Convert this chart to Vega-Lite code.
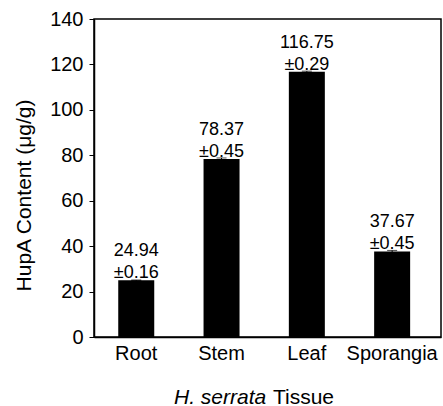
{
  "$schema": "https://vega.github.io/schema/vega-lite/v6.json",
  "autosize": {"type": "none"},
  "padding": {"left": 94, "top": 19, "right": 2, "bottom": 69},
  "width": 347,
  "height": 318,
  "background": "white",
  "config": {
    "font": "Liberation Sans",
    "view": {"stroke": "black", "strokeWidth": 1.5},
    "axis": {
      "labelFont": "Liberation Sans",
      "titleFont": "Liberation Sans",
      "labelColor": "black",
      "titleColor": "black",
      "domainColor": "black",
      "domainWidth": 1.5,
      "tickColor": "black",
      "grid": false,
      "titleFontWeight": "normal"
    }
  },
  "title": {
    "text": "H. serrata",
    "orient": "top",
    "anchor": "start",
    "frame": "group",
    "baseline": "middle",
    "dx": 80,
    "dy": 410,
    "offset": 0,
    "font": "Liberation Sans",
    "fontSize": 21,
    "fontStyle": "italic",
    "fontWeight": "normal",
    "color": "black"
  },
  "data": {
    "values": [
      {"tissue": "Root", "value": 24.94, "sd": 0.16},
      {"tissue": "Stem", "value": 78.37, "sd": 0.45},
      {"tissue": "Leaf", "value": 116.75, "sd": 0.29},
      {"tissue": "Sporangia", "value": 37.67, "sd": 0.45}
    ]
  },
  "transform": [
    {"calculate": "'±' + format(datum.sd, '.2f')", "as": "sdLabel"}
  ],
  "encoding": {
    "x": {
      "field": "tissue",
      "type": "nominal",
      "sort": null,
      "scale": {"paddingInner": 0.578, "paddingOuter": 0.323, "align": 0.44},
      "axis": {
        "labelAngle": 0,
        "labelFontSize": 20,
        "labelPadding": 6,
        "ticks": false,
        "title": "Tissue",
        "titleFontSize": 21,
        "titleX": 209,
        "titleY": 60,
        "titleAlign": "center",
        "titleBaseline": "middle"
      }
    },
    "y": {
      "field": "value",
      "type": "quantitative",
      "scale": {"domain": [0, 140], "nice": false},
      "axis": {
        "values": [0, 20, 40, 60, 80, 100, 120, 140],
        "labelFontSize": 20,
        "tickSize": 5,
        "labelPadding": 6,
        "title": "HupA Content (μg/g)",
        "titleFontSize": 21,
        "titleAngle": -90,
        "titleX": -70,
        "titleY": 176,
        "titleAlign": "center",
        "titleBaseline": "middle"
      }
    }
  },
  "layer": [
    {
      "mark": {"type": "bar", "color": "black"}
    },
    {
      "mark": {"type": "errorbar", "ticks": {"size": 10}, "color": "black"},
      "encoding": {
        "yError": {"field": "sd"}
      }
    },
    {
      "mark": {"type": "text", "baseline": "alphabetic", "dy": -2, "fontSize": 18, "color": "black", "font": "Liberation Sans"},
      "encoding": {
        "text": {"field": "sdLabel"}
      }
    },
    {
      "mark": {"type": "text", "baseline": "alphabetic", "dy": -24, "fontSize": 18, "color": "black", "font": "Liberation Sans"},
      "encoding": {
        "text": {"field": "value", "format": ".2f"}
      }
    }
  ]
}
